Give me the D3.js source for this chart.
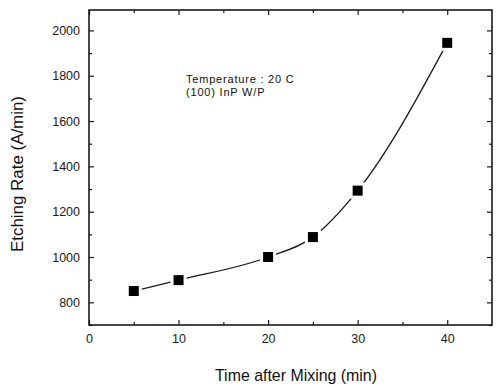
<!DOCTYPE html>
<html>
<head>
<meta charset="utf-8">
<script src="https://cdn.jsdelivr.net/npm/d3@7"></script>
<style>
  body { margin: 0; background: #fff; }
  svg text { font-family: "Liberation Sans", Arial, sans-serif; fill: #111; }
</style>
</head>
<body>
<svg id="chart" width="498" height="386"></svg>
<script>
const times = [5, 10, 20, 25, 30, 40]
const rates = [850, 898, 1000, 1088, 1293, 1945]
const xTicks = [0, 10, 20, 30, 40]
const yTicks = [800, 1000, 1200, 1400, 1600, 1800, 2000]
const notes = ['Temperature : 20 C', '(100) InP W/P']

const margin = { left: 89, top: 10, right: 6, bottom: 61 }
const W = 498, H = 386
const svg = d3.select('#chart')

const x = d3.scaleLinear().domain([0, 45]).range([margin.left, W - margin.right])
const y = d3.scaleLinear().domain([700, 2090]).range([H - margin.bottom, margin.top])

const ink = '#1a1a1a'

// major + minor ticks, all pointing inward, mirrored on all four sides
const xMinor = d3.range(5, 45, 10)
const yMinor = d3.range(700, 2090, 100).filter((v) => v % 200 !== 0)
const yB = y.range()[0], yT = y.range()[1]
const xL = x.range()[0], xR = x.range()[1]

svg.append('g').attr('transform', `translate(0,${yB})`)
  .call(d3.axisBottom(x).tickValues(xTicks).tickSize(-5).tickPadding(9).tickFormat(d3.format('d')))
svg.append('g').attr('transform', `translate(${xL},0)`)
  .call(d3.axisLeft(y).tickValues(yTicks).tickSize(-5).tickPadding(9).tickFormat(d3.format('d')))
svg.append('g').attr('transform', `translate(0,${yB})`)
  .call(d3.axisBottom(x).tickValues(xMinor).tickSize(-3).tickFormat(''))
svg.append('g').attr('transform', `translate(${xL},0)`)
  .call(d3.axisLeft(y).tickValues(yMinor).tickSize(-3).tickFormat(''))
svg.append('g').attr('transform', `translate(0,${yT})`)
  .call(d3.axisTop(x).tickValues(xTicks).tickSize(-5).tickFormat(''))
svg.append('g').attr('transform', `translate(0,${yT})`)
  .call(d3.axisTop(x).tickValues(xMinor).tickSize(-3).tickFormat(''))
svg.append('g').attr('transform', `translate(${xR},0)`)
  .call(d3.axisRight(y).tickValues(yTicks).tickSize(-5).tickFormat(''))
svg.append('g').attr('transform', `translate(${xR},0)`)
  .call(d3.axisRight(y).tickValues(yMinor).tickSize(-3).tickFormat(''))

svg.selectAll('.domain').remove()
svg.selectAll('.tick line').attr('stroke', ink).attr('stroke-width', 1.2)
svg.selectAll('.tick text').attr('font-size', 12.5).style('fill', ink)

svg.append('rect')
  .attr('x', xL).attr('y', yT)
  .attr('width', xR - xL).attr('height', yB - yT)
  .attr('fill', 'none').attr('stroke', ink).attr('stroke-width', 1.6)

// fitted curve
const pts = times.map((t, i) => [t, rates[i]])
const line = d3.line().x((d) => x(d[0])).y((d) => y(d[1])).curve(d3.curveMonotoneX)
svg.append('path').datum(pts).attr('d', line)
  .attr('fill', 'none').attr('stroke', ink).attr('stroke-width', 1.3)

// square markers with white halo so the curve breaks around them
const s = 10
svg.append('g').selectAll('rect').data(pts).join('rect')
  .attr('x', (d) => x(d[0]) - s / 2).attr('y', (d) => y(d[1]) - s / 2)
  .attr('width', s).attr('height', s)
  .attr('fill', '#000').attr('stroke', '#fff').attr('stroke-width', 6).attr('paint-order', 'stroke')

svg.append('g').selectAll('text').data(notes).join('text')
  .attr('x', 186).attr('y', (d, i) => 83 + i * 12.5)
  .attr('font-size', 11).attr('letter-spacing', 0.8)
  .text((d) => d)

svg.append('text')
  .attr('x', 296).attr('y', 381)
  .attr('text-anchor', 'middle').attr('font-size', 17)
  .attr('textLength', 162).attr('lengthAdjust', 'spacingAndGlyphs')
  .text('Time after Mixing (min)')

svg.append('text')
  .attr('transform', `translate(23,${174}) rotate(-90)`)
  .attr('text-anchor', 'middle').attr('font-size', 17)
  .attr('textLength', 156).attr('lengthAdjust', 'spacingAndGlyphs')
  .text('Etching Rate (A/min)')
</script>
</body>
</html>
